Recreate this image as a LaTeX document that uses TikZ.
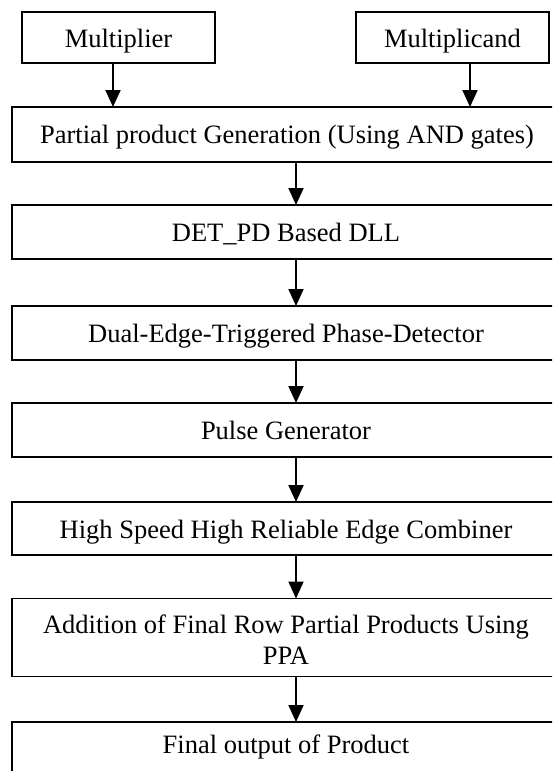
\documentclass[tikz,border=0pt]{standalone}
\usepackage{fontspec}
\setmainfont{Liberation Serif}
\usetikzlibrary{arrows.meta,calc}
\begin{document}
\begin{tikzpicture}[x=1pt,y=-1pt,
  box/.style={draw,line width=1.5pt,rectangle,inner sep=0pt,outer sep=0pt},
  widebox/.style={box,minimum width=568pt},
  inbox/.style={box,minimum width=193pt,minimum height=51pt},
  lbl/.style={anchor=base,inner sep=0pt,font=\fontsize{26.5}{31}\selectfont},
  arr/.style={line width=2pt,-{Triangle[width=15pt,length=17pt]}}]
\useasboundingbox (0,0) rectangle (552,771);
\begin{scope}
\clip (0,0) rectangle (552,771);
% input boxes
\node[inbox] (m1) at (118.5,37.5) {};
\node[inbox] (m2) at (452.5,37.5) {};
\node[lbl] (t0a) at (118.5,47) {Multiplier};
\node[lbl] (t0b) at (452.5,47) {Multiplicand};
% processing stages
\node[widebox,minimum height=55pt] (b1) at (296,134.5) {};
\node[widebox,minimum height=54pt] (b2) at (296,232) {};
\node[widebox,minimum height=54pt] (b3) at (296,333) {};
\node[widebox,minimum height=54pt] (b4) at (296,430) {};
\node[widebox,minimum height=53pt] (b5) at (296,528.5) {};
\node[widebox,minimum height=78pt] (b6) at (296,637.5) {};
\node[widebox,minimum height=54pt] (b7) at (296,749) {};
\node[lbl] (t1) at (287,143) {Partial product Generation (Using AND gates)};
\node[lbl] (t2) at (286,241) {DET\_PD Based DLL};
\node[lbl] (t3) at (286,342) {Dual-Edge-Triggered Phase-Detector};
\node[lbl] (t4) at (286,439) {Pulse Generator};
\node[lbl] (t5) at (286,538) {High Speed High Reliable Edge Combiner};
\node[lbl] (t6a) at (286,633) {Addition of Final Row Partial Products Using};
\node[lbl] (t6b) at (286,664) {PPA};
\node[lbl] (t7) at (286,753) {Final output of Product};
% connectors
\coordinate (xl) at (113,0);
\coordinate (xr) at (470,0);
\coordinate (xc) at (296,0);
\draw[arr] (xl |- m1.south) -- (xl |- b1.north);
\draw[arr] (xr |- m2.south) -- (xr |- b1.north);
\draw[arr] (xc |- b1.south) -- (xc |- b2.north);
\draw[arr] (xc |- b2.south) -- (xc |- b3.north);
\draw[arr] (xc |- b3.south) -- (xc |- b4.north);
\draw[arr] (xc |- b4.south) -- (xc |- b5.north);
\draw[arr] (xc |- b5.south) -- (xc |- b6.north);
\draw[arr] (xc |- b6.south) -- (xc |- b7.north);
\end{scope}
\end{tikzpicture}
\end{document}
